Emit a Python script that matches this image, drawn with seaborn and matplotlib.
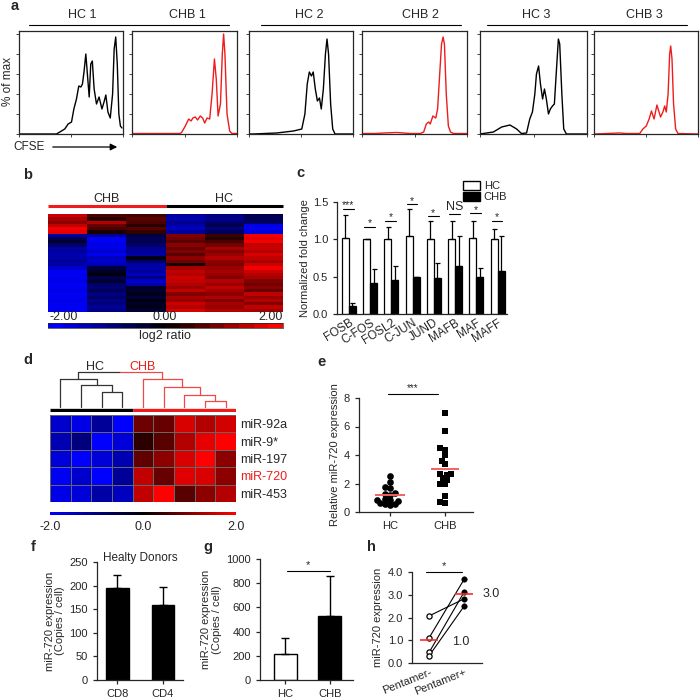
import numpy as np
import pandas as pd
import matplotlib
matplotlib.use("Agg")
import matplotlib.pyplot as plt
import seaborn as sns
from matplotlib.colors import LinearSegmentedColormap, Normalize, BoundaryNorm
from matplotlib.cm import ScalarMappable
from matplotlib.patches import Patch
import matplotlib.transforms as mtrans

# ---------------------------
# Data
# ---------------------------
# a: CFSE histograms (x in log decades, y in % of max)
hc1_x = [0.0, 1.44, 1.57, 1.76, 1.89, 2.02, 2.11, 2.21, 2.30, 2.38, 2.44, 2.50, 2.57, 2.63, 2.70, 2.76,
         2.82, 2.89, 2.98, 3.08, 3.19, 3.27, 3.34, 3.42, 3.51, 3.60, 3.66, 3.72, 3.78, 3.84, 3.90, 3.96]
hc1_y = [0, 0, 2, 5, 10, 12, 25, 35, 48, 47, 50, 62, 80, 60, 37, 70,
         73, 45, 30, 37, 25, 32, 39, 22, 16, 40, 85, 97, 70, 20, 8, 6]
chb1_x = [0.0, 1.84, 1.90, 2.03, 2.16, 2.25, 2.32, 2.41, 2.50, 2.60, 2.69, 2.77, 2.86, 2.96, 3.05, 3.14,
          3.21, 3.28, 3.37, 3.44, 3.49, 3.54, 3.62, 3.72, 3.81, 4.0]
chb1_y = [0.5, 0.5, 2, 8, 15, 13, 16, 17, 14, 18, 16, 11, 16, 15, 40, 75,
          55, 18, 30, 80, 100, 80, 20, 3, 0.5, 0.5]
hc2_x = [0.0, 0.17, 1.06, 1.71, 2.03, 2.15, 2.24, 2.32, 2.40, 2.47, 2.55, 2.63, 2.71, 2.78, 2.86, 2.94,
         3.00, 3.06, 3.14, 3.22, 3.31, 4.0]
hc2_y = [0, 0, 1, 3, 5, 20, 50, 62, 58, 62, 45, 33, 36, 25, 45, 80,
         95, 80, 30, 5, 0, 0]
chb2_x = [0.0, 0.5, 0.83, 1.33, 1.84, 2.22, 2.35, 2.45, 2.54, 2.60, 2.70, 2.81, 2.88, 2.96, 3.03, 3.09,
          3.14, 3.21, 3.29, 3.37, 3.49, 4.0]
chb2_y = [0.5, 0.5, 1, 1.5, 0.5, 0.5, 2, 10, 12, 10, 18, 16, 25, 60, 90, 97,
          90, 40, 8, 2, 0.5, 0.5]
hc3_x = [0.0, 0.50, 0.81, 1.12, 1.37, 1.55, 1.74, 1.86, 1.96, 2.05, 2.11, 2.19, 2.26, 2.34, 2.41, 2.48,
         2.56, 2.63, 2.71, 2.78, 2.86, 2.93, 2.98, 3.06, 3.13, 3.23, 4.0]
hc3_y = [0, 2, 7, 9, 5, 0.5, 1, 15, 22, 40, 60, 68, 50, 35, 45, 35,
         20, 25, 28, 30, 65, 95, 90, 40, 5, 0, 0]
chb3_x = [0.0, 0.99, 1.24, 1.76, 1.88, 2.01, 2.12, 2.21, 2.31, 2.42, 2.56, 2.65, 2.72, 2.78, 2.85, 2.91,
          2.95, 3.00, 3.06, 3.14, 3.23, 4.0]
chb3_y = [0, 1, 0.5, 0.5, 5, 8, 15, 23, 15, 29, 17, 22, 28, 22, 40, 80,
          88, 75, 30, 5, 0.5, 0]
flow_labels = ['HC 1', 'CHB 1', 'HC 2', 'CHB 2', 'HC 3', 'CHB 3']

# b: mRNA heatmap (log2 ratio), 3 CHB + 3 HC samples
chb_a = [1.6, 1.3, 1.1, 1.5, 1.9, 1.8, -1.3, -0.6, -0.4, -0.8, -1.3, -1.2, -1.4, -1.3, -1.2,
         -1.3, -1.6, -1.9, -1.9, -1.9, -1.8, -1.9, -1.9, -1.8, -1.9, -1.9, -1.8, -1.9, -1.9, -1.9]
chb_b = [0.6, 0.3, 1.4, 0.8, 0.6, 0.2, -1.2, -1.9, -1.9, -1.8, -1.8, -1.6, -1.9, -1.5, -1.6,
         -1.4, -0.5, -0.3, -0.1, -0.6, -0.4, -0.8, -0.9, -0.7, -1.0, -0.8, -1.1, -0.9, -1.2, -1.0]
chb_c = [0.5, 0.7, 0.6, 0.3, 0.7, 0.4, -0.5, -0.7, -0.6, -0.8, -1.2, -1.1, -1.3, -0.2, -0.8,
         -1.3, -1.3, -1.2, -1.5, -1.0, -1.6, -1.3, -0.3, -0.4, -0.2, -0.5, -0.1, -0.3, -0.2, -0.4]
hc_a = [-1.2, -1.4, -1.1, -1.3, -1.5, -1.2, 1.0, 0.9, 0.7, 1.1, 0.8, 1.0, 0.7, 1.1, 0.9,
        0.2, 1.3, 1.5, 1.4, 1.6, 1.5, 1.4, 1.2, 1.5, 1.0, 1.3, 1.2, 1.6, 1.4, 1.7]
hc_b = [-1.0, -1.1, -0.8, -0.6, -1.0, -0.7, 0.5, 0.3, 0.6, 0.9, 1.3, 1.0, 1.2, 1.4, 1.1,
        1.0, 1.2, 1.3, 1.2, 1.0, 1.4, 1.2, 1.5, 1.3, 1.1, 1.4, 1.0, 1.3, 1.2, 1.4]
hc_c = [-0.6, -0.7, -0.8, -1.8, -1.9, -1.7, 1.9, 1.8, 1.9, 1.5, 1.6, 1.4, 1.7, 1.5, 1.3,
        1.6, 1.9, 1.6, 1.4, 1.3, 1.0, 0.9, 1.1, 0.8, 1.5, 1.2, 1.4, 1.0, 1.5, 1.3]

# c: AP-1 family qPCR
genes = ['FOSB', 'C-FOS', 'FOSL2', 'C-JUN', 'JUND', 'MAFB', 'MAF', 'MAFF']
hc_fold = [1.02, 1.00, 1.01, 1.05, 1.01, 1.01, 1.02, 1.00]
hc_fold_err = [0.31, 0.005, 0.16, 0.36, 0.23, 0.24, 0.23, 0.14]
chb_fold = [0.11, 0.42, 0.46, 0.49, 0.48, 0.64, 0.50, 0.57]
chb_fold_err = [0.04, 0.18, 0.18, 0.01, 0.20, 0.41, 0.12, 0.47]
sig_height = [1.41, 1.17, 1.25, 1.47, 1.31, 1.34, 1.35, 1.25]
sig_text = ['***', '*', '*', '*', '*', 'NS', '*', '*']

# d: miRNA heatmap, 4 HC + 5 CHB
mirnas = ['miR-92a', 'miR-9*', 'miR-197', 'miR-720', 'miR-453']
mir92a = [-1.6, -1.8, -1.2, -2.0, 0.85, 0.8, 1.7, 1.4, 1.65]
mir9 = [-1.4, -1.0, -2.0, -1.7, 0.35, 0.7, 1.4, 1.8, 2.0]
mir197 = [-1.7, -2.0, -1.7, -1.4, 0.75, 1.1, 1.7, 2.0, 1.1]
mir720 = [-1.9, -1.6, -2.0, -1.2, 1.5, 0.8, 1.75, 1.7, 1.1]
mir453 = [-1.8, -1.7, -1.3, -1.5, 1.5, 2.0, 0.7, 1.1, 1.4]
# dendrogram merges: (left node, right node, height); leaves 0-8, new nodes from 9
d_merges = [(2, 3, 0.44), (1, 9, 0.63), (0, 10, 0.80),
            (7, 8, 0.17), (6, 12, 0.35), (5, 13, 0.58), (4, 14, 0.80),
            (11, 15, 1.0)]

# e: relative miR-720
hc_rel = [2.5, 2.1, 1.7, 1.75, 1.3, 1.25, 1.2, 0.9, 0.85, 0.85, 0.8, 0.6, 0.55, 0.55, 0.5]
chb_rel = [6.95, 5.7, 4.5, 4.35, 4.0, 3.6, 3.35, 2.7, 2.6, 2.7, 2.4, 2.25, 1.95, 2.0, 1.1, 0.7, 0.6]

# f, g: copies per cell
cd_labels = ['CD8', 'CD4']
cd_copies = [195, 158]
cd_err = [28, 40]
g_groups = ['HC', 'CHB']
g_copies = [213, 530]
g_err = [130, 326]

# h: paired pentamer
pent_minus = [2.07, 1.11, 0.47, 0.32]
pent_plus = [2.82, 3.68, 3.12, 2.50]

# ---------------------------
# Style
# ---------------------------
sns.set_theme(style="ticks")
plt.rcParams['font.family'] = ['Liberation Sans', 'DejaVu Sans']
plt.rcParams['font.size'] = 8
plt.rcParams['axes.linewidth'] = 0.9
plt.rcParams['xtick.major.width'] = 0.9
plt.rcParams['ytick.major.width'] = 0.9
plt.rcParams['xtick.labelsize'] = 8
plt.rcParams['ytick.labelsize'] = 8
plt.rcParams['axes.labelsize'] = 8

W, H = 700, 699
fig = plt.figure(figsize=(7, 6.99), dpi=100)
RED = '#ee1c1c'


def px_axes(x0, y0, x1, y1):
    return fig.add_axes([x0 / W, 1 - y1 / H, (x1 - x0) / W, (y1 - y0) / H])


def ftext(x, y, s, **kw):
    fig.text(x / W, 1 - y / H, s, **kw)


def fline(x0, x1, y, **kw):
    fig.add_artist(plt.Line2D([x0 / W, x1 / W], [1 - y / H, 1 - y / H], transform=fig.transFigure, **kw))


for lab, (x, y) in zip('abcdefgh', [(15, 6), (28, 175), (300, 173), (28, 360), (321, 362),
                                    (33, 547), (208, 547), (371, 547)]):
    ftext(x, y, lab, fontsize=10.5, fontweight='bold', ha='center', va='center')

# ---------------------------
# a: CFSE histograms
# ---------------------------
curves = [(hc1_x, hc1_y, 'black'), (chb1_x, chb1_y, RED), (hc2_x, hc2_y, 'black'),
          (chb2_x, chb2_y, RED), (hc3_x, hc3_y, 'black'), (chb3_x, chb3_y, RED)]
boxes = [(19, 123), (132, 237), (249, 353), (362, 467), (480, 587), (594, 698)]
label_x = [82, 187, 309, 420, 536, 644]
for (xs, ys, col), (x0, x1), lab, lx in zip(curves, boxes, flow_labels, label_x):
    ax = px_axes(x0, 31, x1, 134)
    sns.lineplot(x=10 ** np.array(xs), y=ys, ax=ax, color=col, lw=1.0, estimator=None, sort=False)
    ax.set_xscale('log')
    ax.set_xlim(1, 1e4)
    ax.set_ylim(0, 103)
    ax.set_yticks(range(0, 101, 20))
    ax.tick_params(labelbottom=False, labelleft=False, length=2, width=0.6)
    ax.tick_params(axis='x', which='minor', length=1.2, width=0.5)
    for sp in ax.spines.values():
        sp.set_linewidth(0.9)
    ax.set_xlabel('')
    ax.set_ylabel('')
    ftext(lx, 15, lab, fontsize=9, ha='center', va='center')
for x0, x1 in [(29, 229), (261, 461), (487, 687)]:
    fline(x0, x1, 25, color='black', lw=0.8)
ftext(8, 82, '% of max', rotation=90, fontsize=8.5, ha='center', va='center')
ftext(13, 147, 'CFSE', fontsize=8.5, ha='left', va='center')
fig.add_artist(matplotlib.patches.FancyArrowPatch((50 / W, 1 - 147 / H), (120 / W, 1 - 147 / H),
                                                  transform=fig.transFigure, arrowstyle='-|>',
                                                  mutation_scale=10, color='black', lw=0.9))

# ---------------------------
# b: mRNA heatmap
# ---------------------------
bkr = LinearSegmentedColormap.from_list('bkr', ['#0000ff', '#000000', '#ff0000'])
b_df = pd.DataFrame({'CHB a': chb_a, 'CHB b': chb_b, 'CHB c': chb_c,
                     'HC a': hc_a, 'HC b': hc_b, 'HC c': hc_c})
ax_b = px_axes(48, 214, 283, 312)
sns.heatmap(b_df, cmap=bkr, vmin=-2, vmax=2, cbar=False, xticklabels=False, yticklabels=False, ax=ax_b)
trb = mtrans.blended_transform_factory(ax_b.transData, ax_b.transAxes)
ax_b.plot([0, 3], [1.08, 1.08], color=RED, lw=2.2, transform=trb, clip_on=False, solid_capstyle='butt')
ax_b.plot([3, 6], [1.08, 1.08], color='black', lw=2.2, transform=trb, clip_on=False, solid_capstyle='butt')
ax_b.text(1.5, 1.155, 'CHB', transform=trb, ha='center', va='center', fontsize=9)
ax_b.text(4.5, 1.155, 'HC', transform=trb, ha='center', va='center', fontsize=9)

cax_b = px_axes(48, 323, 283, 328)
bounds = np.linspace(-2, 2, 17)
cb = fig.colorbar(ScalarMappable(norm=BoundaryNorm(bounds, 256), cmap=bkr), cax=cax_b,
                  orientation='horizontal')
cb.outline.set_linewidth(0.5)
cb.set_ticks([])
cax_b.minorticks_off()
for txt, xx, ha in zip(['-2.00', '0.00', '2.00'], [49, 165, 283], ['left', 'center', 'right']):
    ftext(xx, 317.5, txt, fontsize=9, ha=ha, va='center')
ftext(165, 336, 'log2 ratio', fontsize=9, ha='center', va='center')

# ---------------------------
# c: AP-1 bars
# ---------------------------
c_df = pd.DataFrame({'gene': genes * 2, 'group': ['HC'] * 8 + ['CHB'] * 8,
                     'fold': hc_fold + chb_fold})
ax_c = px_axes(337, 202, 507, 314)
sns.barplot(data=c_df, x='gene', y='fold', hue='group', palette={'HC': 'white', 'CHB': 'black'},
            edgecolor='black', linewidth=0.9, width=0.66, gap=0, ax=ax_c, legend=False)
for cont, vals, errs in zip(ax_c.containers, [hc_fold, chb_fold], [hc_fold_err, chb_fold_err]):
    xs = [p.get_x() + p.get_width() / 2 for p in cont.patches]
    ax_c.errorbar(xs, vals, yerr=[np.zeros(len(vals)), errs], fmt='none', ecolor='black',
                  elinewidth=0.9, capsize=1.8, capthick=0.9)
for i, (hgt, s) in enumerate(zip(sig_height, sig_text)):
    ax_c.plot([i - 0.28, i + 0.22], [hgt, hgt], color='black', lw=0.8, clip_on=False)
    ax_c.text(i - 0.03, hgt + (0.01 if s == 'NS' else -0.02), s, ha='center', va='bottom',
              fontsize=9 if s == 'NS' else 7.5, clip_on=False)
ax_c.set_xlim(-0.56, 7.44)
ax_c.set_ylim(0, 1.5)
ax_c.set_yticks([0, 0.5, 1.0, 1.5])
ax_c.set_yticklabels(['0.0', '0.5', '1.0', '1.5'])
ax_c.set_xticks(range(8))
ax_c.set_xticklabels(genes, rotation=32, ha='right', rotation_mode='anchor', fontsize=8.5)
ax_c.tick_params(axis='x', length=0, pad=2)
ax_c.tick_params(axis='y', length=3)
ax_c.set_xlabel('')
ax_c.set_ylabel('Normalized fold change', labelpad=2)
sns.despine(ax=ax_c)
ax_c.legend(handles=[Patch(facecolor='white', edgecolor='black', label='HC'),
                     Patch(facecolor='black', edgecolor='black', label='CHB')],
            loc='upper left', bbox_to_anchor=(457 / W, 1 - 175 / H), bbox_transform=fig.transFigure,
            frameon=False, fontsize=8, handlelength=1.6, handleheight=0.9, handletextpad=0.3,
            labelspacing=0.05, borderpad=0)

# ---------------------------
# d: miRNA heatmap + dendrogram
# ---------------------------
d_df = pd.DataFrame([mir92a, mir9, mir197, mir720, mir453], index=mirnas)
ax_d = px_axes(50, 415, 236, 502)
sns.heatmap(d_df, cmap=bkr, vmin=-2, vmax=2, cbar=False, xticklabels=False, yticklabels=True,
            linewidths=0.4, linecolor='#666666', ax=ax_d)
ax_d.yaxis.tick_right()
ax_d.tick_params(axis='y', length=0, pad=3, labelsize=9, rotation=0)
for t in ax_d.get_yticklabels():
    t.set_rotation(0)
    if t.get_text() == 'miR-720':
        t.set_color(RED)

ax_dn = px_axes(50, 369, 236, 412)
node_x = {i: i + 0.5 for i in range(9)}
node_h = {i: 0.0 for i in range(9)}
hc_nodes = set(range(4))
for k, (a, b, hgt) in enumerate(d_merges):
    nid = 9 + k
    xa, xb = node_x[a], node_x[b]
    node_x[nid] = (xa + xb) / 2
    node_h[nid] = hgt
    if a in hc_nodes and b in hc_nodes:
        hc_nodes.add(nid)
        cols = ('#333333', '#333333', '#333333')
    elif a not in hc_nodes and b not in hc_nodes:
        cols = ('#f04848', '#f04848', '#f04848')
    else:
        cols = ('#333333', '#f04848', None)
    ax_dn.plot([xa, xa], [node_h[a], hgt], color=cols[0], lw=0.9)
    ax_dn.plot([xb, xb], [node_h[b], hgt], color=cols[1], lw=0.9)
    if cols[2] is None:
        xm = (xa + xb) / 2
        ax_dn.plot([xa, xm], [hgt, hgt], color=cols[0], lw=0.9)
        ax_dn.plot([xm, xb], [hgt, hgt], color=cols[1], lw=0.9)
    else:
        ax_dn.plot([xa, xb], [hgt, hgt], color=cols[2], lw=0.9)
ax_dn.plot([0, 4], [-0.085, -0.085], color='black', lw=2.4, solid_capstyle='butt')
ax_dn.plot([4, 9], [-0.085, -0.085], color=RED, lw=2.4, solid_capstyle='butt')
ax_dn.set_xlim(0, 9)
ax_dn.set_ylim(-0.147, 1.09)
ax_dn.axis('off')
ftext(95, 367, 'HC', fontsize=9, ha='center', va='center')
ftext(143, 367, 'CHB', fontsize=9, ha='center', va='center', color=RED)

cax_d = px_axes(50, 512, 236, 515)
cbd = fig.colorbar(ScalarMappable(norm=Normalize(-2, 2), cmap=bkr), cax=cax_d, orientation='horizontal')
cbd.outline.set_visible(False)
cbd.set_ticks([-2, 0, 2])
cax_d.set_xticklabels(['-2.0', '0.0', '2.0'], fontsize=9)
cax_d.minorticks_off()
cax_d.tick_params(length=0, pad=4)

# ---------------------------
# e: relative miR-720 scatter
# ---------------------------
ax_e = px_axes(359, 398, 473, 512)
ax_e.set_xlim(-0.56, 1.51)
ax_e.set_ylim(0, 8)
sns.swarmplot(x=['HC'] * len(hc_rel), y=hc_rel, order=['HC', 'CHB'], marker='o', color='black',
              size=3.4, ax=ax_e)
sns.swarmplot(x=['CHB'] * len(chb_rel), y=chb_rel, order=['HC', 'CHB'], marker='s', color='black',
              size=3.4, ax=ax_e)
ax_e.set_xlim(-0.56, 1.51)
ax_e.set_ylim(0, 8)
# lay the swarm out tight, freeze it, then enlarge markers so they overlap like the original
fig.canvas.draw()
for coll in ax_e.collections:
    if 'draw' in coll.__dict__:
        del coll.draw
    coll.set_sizes([4.8 ** 2])
ax_e.hlines(np.mean(hc_rel), -0.27, 0.27, color='#f26262', lw=1.4, zorder=5)
ax_e.hlines(np.mean(chb_rel), 0.74, 1.26, color='#f26262', lw=1.4, zorder=5)
ax_e.plot([-0.04, 0.87], [8.3, 8.3], color='black', lw=0.8, clip_on=False)
ax_e.text(0.41, 8.35, '***', ha='center', va='bottom', fontsize=7, clip_on=False)
ax_e.set_yticks([0, 2, 4, 6, 8])
ax_e.tick_params(length=3)
ax_e.set_ylabel('Relative miR-720 expression', labelpad=3)
sns.despine(ax=ax_e)

# ---------------------------
# f: CD8 / CD4 copies
# ---------------------------
ax_f = px_axes(97, 562, 183, 680)
sns.barplot(x=cd_labels, y=cd_copies, color='black', edgecolor='black', width=0.5, ax=ax_f)
ax_f.errorbar(range(2), cd_copies, yerr=[[0, 0], cd_err], fmt='none', ecolor='black',
              elinewidth=1, capsize=3, capthick=1)
ax_f.set_xlim(-0.45, 1.44)
ax_f.set_ylim(0, 250)
ax_f.set_yticks(range(0, 251, 50))
ax_f.tick_params(length=3)
ax_f.text(0.5, 1.03, 'Healty Donors', transform=ax_f.transAxes, ha='center', va='center', fontsize=8.5)
ax_f.set_ylabel('miR-720 expression\n(Copies / cell)', labelpad=3, linespacing=1.1)
sns.despine(ax=ax_f)

# ---------------------------
# g: HC vs CHB copies
# ---------------------------
ax_g = px_axes(260, 559, 353, 680)
sns.barplot(x=g_groups, y=g_copies, hue=g_groups, palette={'HC': 'white', 'CHB': 'black'},
            edgecolor='black', linewidth=1, width=0.52, legend=False, ax=ax_g)
ax_g.errorbar(range(2), g_copies, yerr=[[0, 0], g_err], fmt='none', ecolor='black',
              elinewidth=1, capsize=3, capthick=1)
ax_g.plot([0.03, 1.0], [898, 898], color='black', lw=0.8)
ax_g.text(0.5, 905, '*', ha='center', va='bottom', fontsize=8)
ax_g.set_xlim(-0.57, 1.52)
ax_g.set_ylim(0, 1000)
ax_g.set_yticks(range(0, 1001, 200))
ax_g.tick_params(length=3)
ax_g.set_ylabel('miR-720 expression\n(Copies / cell)', labelpad=3, linespacing=1.1)
sns.despine(ax=ax_g)

# ---------------------------
# h: paired pentamer
# ---------------------------
ax_h = px_axes(412, 572, 482, 663)
h_df = pd.DataFrame({'donor': list(range(4)) * 2, 'pos': [0] * 4 + [1] * 4,
                     'expr': pent_minus + pent_plus})
sns.lineplot(data=h_df, x='pos', y='expr', units='donor', estimator=None, color='black', lw=0.8, ax=ax_h)
sns.scatterplot(x=[0] * 4, y=pent_minus, color='white', edgecolor='black', linewidth=0.9, s=14,
                ax=ax_h, zorder=3)
sns.scatterplot(x=[1] * 4, y=pent_plus, color='black', edgecolor='black', s=16, ax=ax_h, zorder=3)
m_minus, m_plus = np.mean(pent_minus), np.mean(pent_plus)
ax_h.hlines(m_minus, -0.26, 0.26, color='#ff2a2a', lw=1.2, zorder=4)
ax_h.hlines(m_plus, 0.74, 1.26, color='#ff2a2a', lw=1.2, zorder=4)
ax_h.text(0.66, m_minus - 0.05, f'{m_minus:.1f}', ha='left', va='center', fontsize=9)
ax_h.text(1.54, m_plus, f'{m_plus:.1f}', ha='left', va='center', fontsize=9, clip_on=False)
ax_h.plot([-0.09, 0.94], [4.0, 4.0], color='black', lw=0.8, clip_on=False)
ax_h.text(0.42, 4.03, '*', ha='center', va='bottom', fontsize=8, clip_on=False)
ax_h.set_xlim(-0.49, 1.51)
ax_h.set_ylim(0, 4)
ax_h.set_yticks([0, 1, 2, 3, 4])
ax_h.set_yticklabels(['0.0', '1.0', '2.0', '3.0', '4.0'])
ax_h.set_xticks([0, 1])
ax_h.set_xticklabels(['Pentamer-', 'Pentamer+'], rotation=22, ha='right', rotation_mode='anchor')
ax_h.tick_params(axis='x', length=0, pad=3)
ax_h.tick_params(axis='y', length=3)
ax_h.set_xlabel('')
ax_h.set_ylabel('miR-720 expression', labelpad=3)
sns.despine(ax=ax_h)

fig.savefig('out.png', dpi=100)
